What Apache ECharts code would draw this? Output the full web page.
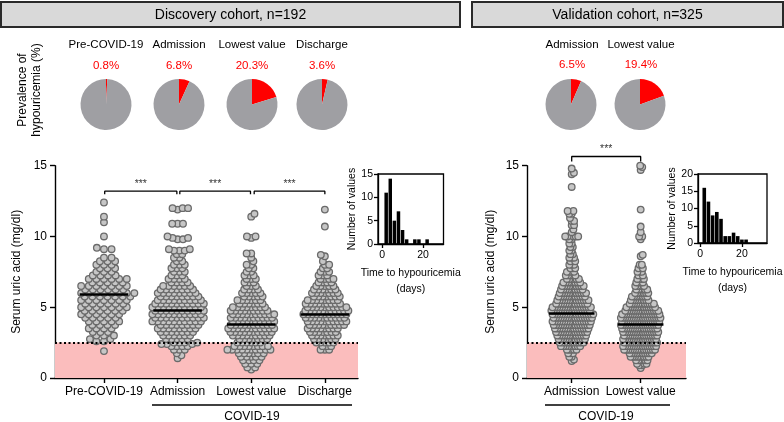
<!DOCTYPE html>
<html><head><meta charset="utf-8">
<script src="https://cdn.jsdelivr.net/npm/echarts@6/dist/echarts.min.js"></script>
<style>html,body{margin:0;padding:0;background:#fff;}#c{width:784px;height:422px;}</style>
</head><body><div id="c"></div>
<script>
// ---------------- data ----------------
const discoveryCategories = ['Pre-COVID-19', 'Admission', 'Lowest value', 'Discharge'];
const validationCategories = ['Admission', 'Lowest value'];
const discoveryPrevalence = [0.8, 6.8, 20.3, 3.6];
const validationPrevalence = [6.5, 19.4];
const discoveryMedians = [5.9, 4.8, 3.8, 4.5];
const validationMedians = [4.6, 3.8];
const uricTicks = [0, 5, 10, 15];
const hypoThreshold = 2.5;
const sigLabel = '***';

// serum uric acid (mg/dl): [value, number of patients at that value]
const discPre = [[1.9,1],[2.6,2],[2.75,2],[3,3],[3.25,3],[3.5,4],[3.75,4],[4,5],[4.25,5],[4.5,6],[4.75,6],[5,7],[5.25,6],[5.5,7],[5.75,7],[6,8],[6.25,6],[6.5,7],[6.75,5],[7,6],[7.25,4],[7.5,3],[7.75,3],[8,3],[8.25,3],[8.5,2],[9.1,2],[9.2,1],[10,1],[11,1],[11.4,1],[12.4,1]];
const discAdm = [[1.4,1],[1.6,1],[1.75,1],[2,3],[2.25,4],[2.4,3],[2.5,4],[2.75,5],[3,6],[3.25,7],[3.5,8],[3.75,8],[4,10],[4.25,10],[4.5,10],[4.75,10],[5,10],[5.25,10],[5.5,9],[5.75,8],[6,8],[6.25,7],[6.5,6],[6.75,4],[7,4],[7.25,3],[7.5,3],[7.75,3],[8,3],[8.25,2],[8.5,2],[8.75,2],[9,3],[9.1,2],[9.8,2],[9.9,2],[10,1],[10.9,3],[11.9,1],[12,3]];
const discLow = [[0.6,1],[0.75,2],[1,3],[1.25,4],[1.5,5],[1.75,6],[2,10],[2.25,8],[2.5,6],[2.75,7],[3,9],[3.25,10],[3.5,11],[3.75,10],[4,10],[4.25,10],[4.5,10],[4.75,9],[5,8],[5.25,6],[5.5,6],[5.75,5],[6,5],[6.25,4],[6.5,3],[6.75,3],[7,3],[7.25,3],[7.5,2],[7.75,2],[8,2],[8.25,1],[8.5,1],[8.8,2],[9.9,1],[10,2],[11.4,1],[11.6,1]];
const discDis = [[2,3],[2.25,3],[2.5,5],[2.75,6],[3,7],[3.25,7],[3.5,8],[3.75,9],[4,10],[4.25,10],[4.5,11],[4.75,11],[5,10],[5.25,9],[5.5,8],[5.75,7],[6,7],[6.25,6],[6.5,5],[6.75,4],[7,4],[7.25,3],[7.5,3],[7.75,2],[8,2],[8.25,1],[8.6,1],[8.7,1],[10.7,1],[11.9,1]];
const valAdm = [[1.2,1],[1.3,1],[1.5,2],[1.75,3],[2,5],[2.25,9],[2.5,11],[2.75,12],[3,13],[3.25,14],[3.5,15],[3.75,16],[4,17],[4.25,17],[4.5,18],[4.75,17],[5,17],[5.25,14],[5.5,14],[5.75,12],[6,12],[6.25,10],[6.5,10],[6.75,8],[7,6],[7.25,5],[7.5,4],[7.75,3],[8,3],[8.25,3],[8.5,3],[8.75,2],[9,2],[9.25,2],[9.5,2],[9.8,2],[10,5],[10.3,1],[10.5,1],[10.8,2],[11.1,2],[11.3,1],[11.6,2],[11.8,2],[13.5,1],[14.4,1],[14.5,1],[14.8,1]];
const valLow = [[0.7,1],[0.9,2],[1,3],[1.25,6],[1.5,9],[1.75,11],[2,15],[2.25,16],[2.5,16],[2.75,16],[3,16],[3.25,17],[3.5,17],[3.75,18],[4,18],[4.25,19],[4.5,18],[4.75,16],[5,14],[5.25,12],[5.5,9],[5.75,8],[6,7],[6.25,6],[6.5,5],[6.75,4],[7,4],[7.25,3],[7.5,3],[7.75,3],[8,2],[8.6,1],[8.7,1],[9.8,1],[10,2],[10.3,1],[10.7,1],[11.9,1],[14.7,1],[14.9,1],[15,1]];

// time to hypouricemia histograms (bin centre in days, count)
const discHistDays = [2,4,6,8,10,12,14,16,18,20,22];
const discHistCounts = [11,14,5,7,3,1,0,1,1,0,1];
const valHistDays = [2,4,6,8,10,12,14,16,18,20,22];
const valHistCounts = [16,12,8,9,7,2,2,3,2,1,1];
const discHistTicks = [0,5,10,15];
const valHistTicks = [0,5,10,15,20];
const dayTicks = [0,20];

// ---------------- layout ----------------
const FONT = "'Liberation Sans', Arial, Helvetica, sans-serif";
const MAIN_TOP = 165.7, MAIN_H = 212.3;
const D = {left:55, width:303, xmin:0.335, xmax:4.45, spacing:[7.6,5.4,4.6,4.3]};
const V = {left:527, width:159, xmin:0.352, xmax:2.657, spacing:[2.4,2.2]};
const pxPerY = MAIN_H / 15;
const ROW_H = 4.0; // vertical collision radius (px)

function expand(pairs){ const v=[]; pairs.forEach(([val,n])=>{ for(let i=0;i<n;i++) v.push(val); }); return v; }

// beeswarm layout: each point keeps its value, shifted sideways to avoid overlap
function swarm(pairs, center, pxPerX, s){
  const vals = expand(pairs).sort((a,b)=>a-b);
  const placed = [], out = [];
  vals.forEach((v,k)=>{
    const y = v*pxPerY;
    const iv = [];
    placed.forEach(p=>{ const dy=Math.abs(p.y-y); if(dy<ROW_H){ const w=s*Math.sqrt(1-(dy/ROW_H)*(dy/ROW_H)); iv.push([p.x-w,p.x+w]); } });
    const cands=[0]; iv.forEach(([a,b])=>cands.push(a,b));
    const ok = c => iv.every(([a,b]) => c <= a+1e-6 || c >= b-1e-6);
    let best=null;
    cands.filter(ok).forEach(c=>{
      if(best===null || Math.abs(c) < Math.abs(best)-1e-6) best=c;
      else if(Math.abs(Math.abs(c)-Math.abs(best))<1e-6 && ((k%2===0) ? c<best : c>best)) best=c;
    });
    placed.push({x:best,y});
    out.push([center + best/pxPerX, v]);
  });
  return out;
}

function mainX(grid, L, cats){
  const pos = cats.map((c,i)=>i+1);
  return {type:'value', gridIndex:grid, min:L.xmin, max:L.xmax,
    axisLine:{show:true,onZero:false,lineStyle:{color:'#000',width:1.4}},
    axisTick:{show:true,customValues:pos,length:5,inside:false,lineStyle:{color:'#000',width:1.4}},
    axisLabel:{customValues:pos,formatter:v=>cats[Math.round(v)-1],color:'#000',fontSize:12,margin:8,fontFamily:FONT},
    splitLine:{show:false}};
}
function mainY(grid, gap){
  return {type:'value', gridIndex:grid, min:0, max:15, interval:5,
    axisLine:{show:true,onZero:false,lineStyle:{color:'#000',width:1.4}},
    axisTick:{show:true,length:5,lineStyle:{color:'#000',width:1.4}},
    axisLabel:{color:'#000',fontSize:12,margin:8,fontFamily:FONT,customValues:uricTicks},
    splitLine:{show:false},
    name:'Serum uric acid (mg/dl)', nameLocation:'middle', nameRotate:90, nameGap:gap,
    nameTextStyle:{color:'#000',fontSize:12,fontFamily:FONT}};
}
function insetX(grid,min,max){
  return {type:'value',gridIndex:grid,min,max,
    axisLine:{show:true,onZero:false,lineStyle:{color:'#000',width:1.3}},
    axisTick:{show:true,customValues:dayTicks,length:4,lineStyle:{color:'#000',width:1.3}},
    axisLabel:{customValues:dayTicks,color:'#000',fontSize:10.5,margin:6,fontFamily:FONT},
    splitLine:{show:false},
    name:'Time to hypouricemia\n(days)', nameLocation:'middle', nameGap:21,
    nameTextStyle:{color:'#000',fontSize:10.5,lineHeight:16,fontFamily:FONT}};
}
function insetY(grid,max,ticks){
  return {type:'value',gridIndex:grid,min:0,max,interval:5,
    axisLine:{show:true,onZero:false,lineStyle:{color:'#000',width:1.3}},
    axisTick:{show:true,length:4,lineStyle:{color:'#000',width:1.3}},
    axisLabel:{customValues:ticks,color:'#000',fontSize:10.5,margin:5,fontFamily:FONT},
    splitLine:{show:false},
    name:'Number of values', nameLocation:'middle', nameRotate:90, nameGap:20,
    nameTextStyle:{color:'#000',fontSize:10.5,fontFamily:FONT}};
}

const series = [];
function addPanel(ax, L, groups, medians, brackets){
  series.push({type:'scatter', xAxisIndex:ax, yAxisIndex:ax, data:[], z:1, silent:true,
    markArea:{silent:true, itemStyle:{color:'#fbbdbd'}, data:[[{yAxis:0},{yAxis:hypoThreshold}]]},
    markLine:{silent:true, symbol:['none','none'], label:{show:false},
      lineStyle:{color:'#000',width:2,type:[2,2.5]}, data:[{yAxis:hypoThreshold}]}});
  const pxPerX = L.width/(L.xmax-L.xmin);
  groups.forEach((g,i)=>{
    series.push({type:'scatter', xAxisIndex:ax, yAxisIndex:ax, z:3, silent:true, animation:false,
      symbol:'circle', symbolSize:6.6,
      itemStyle:{color:'#c6c6c6', borderColor:'#6a6a6a', borderWidth:1.3, opacity:1},
      data: swarm(g, i+1, pxPerX, L.spacing[i])});
  });
  series.push({type:'scatter', xAxisIndex:ax, yAxisIndex:ax, data:[], z:10, silent:true,
    markLine:{silent:true, symbol:['none','none'], label:{show:false}, animation:false,
      lineStyle:{color:'#000',width:2.6,type:'solid'},
      data: medians.map((m,i)=>[{coord:[i+1-0.33,m]},{coord:[i+1+0.33,m]}])}});
  brackets.forEach(b=>{
    series.push({type:'line', xAxisIndex:ax, yAxisIndex:ax, clip:false, silent:true, animation:false, z:5,
      symbol:'none', lineStyle:{color:'#000',width:1.3},
      data:[[b.a,b.level-b.drop],[b.a,b.level],[b.b,b.level],[b.b,b.level-b.drop]]});
    series.push({type:'scatter', xAxisIndex:ax, yAxisIndex:ax, clip:false, silent:true, animation:false, z:6,
      symbolSize:1, itemStyle:{color:'rgba(0,0,0,0)'},
      label:{show:true, formatter:sigLabel, position:'top', distance:1, color:'#000', fontSize:10.5, fontFamily:FONT},
      data:[[(b.a+b.b)/2, b.level]]});
  });
}
addPanel(0, D, [discPre, discAdm, discLow, discDis], discoveryMedians,
  [{a:1.01,b:1.99,level:13.2,drop:0.22},{a:2.03,b:2.99,level:13.2,drop:0.22},{a:3.04,b:4.0,level:13.2,drop:0.22}]);
addPanel(1, V, [valAdm, valLow], validationMedians,
  [{a:1.0,b:2.0,level:15.65,drop:0.35}]);

// insets
series.push({type:'bar', xAxisIndex:2, yAxisIndex:2, barWidth:3.5, silent:true, animation:false,
  itemStyle:{color:'#000'}, data: discHistDays.map((d,i)=>[d,discHistCounts[i]])});
series.push({type:'bar', xAxisIndex:3, yAxisIndex:3, barWidth:3.6, silent:true, animation:false,
  itemStyle:{color:'#000'}, data: valHistDays.map((d,i)=>[d,valHistCounts[i]])});

// pies
const discPieX = [106,179,252,322], valPieX = [571,640], PIE_Y = 104.5;
function addPie(x,p){
  series.push({type:'pie', center:[x,PIE_Y], radius:25.5, startAngle:90, clockwise:true, silent:true, animation:false,
    label:{show:false}, labelLine:{show:false}, emphasis:{disabled:true},
    itemStyle:{borderWidth:0},
    data:[{value:p, itemStyle:{color:'#ff0000'}},{value:100-p, itemStyle:{color:'#9f9fa3'}}]});
}
discoveryPrevalence.forEach((p,i)=>addPie(discPieX[i],p));
validationPrevalence.forEach((p,i)=>addPie(valPieX[i],p));

// texts / decorations
const graphic = [];
function txt(x,y,t,size,color){ graphic.push({type:'text',x,y,silent:true,
  style:{text:t,fill:color||'#000',fontSize:size,fontFamily:FONT,align:'center',verticalAlign:'middle'}}); }
graphic.push({type:'rect',silent:true,shape:{x:1,y:2,width:459,height:25},style:{fill:'#d9d9d9',stroke:'#2a2a2a',lineWidth:2}});
graphic.push({type:'rect',silent:true,shape:{x:472,y:2,width:311,height:25},style:{fill:'#d9d9d9',stroke:'#2a2a2a',lineWidth:2}});
txt(230.5,15,'Discovery cohort, n=192',14);
txt(627.5,15,'Validation cohort, n=325',14);
graphic.push({type:'text',x:30,y:90,rotation:Math.PI/2,silent:true,
  style:{text:'Prevalence of\nhypouricemia (%)',fill:'#000',fontSize:12,lineHeight:14,fontFamily:FONT,align:'center',verticalAlign:'middle'}});
discoveryCategories.forEach((c,i)=>{ txt(discPieX[i],44.5,c,11.5); txt(discPieX[i],65.5,discoveryPrevalence[i].toFixed(1)+'%',11.5,'#ff0000'); });
validationCategories.forEach((c,i)=>{ txt(valPieX[i]+1,44.5,c,11.5); txt(valPieX[i]+1,65,validationPrevalence[i].toFixed(1)+'%',11.5,'#ff0000'); });
graphic.push({type:'line',silent:true,shape:{x1:152,y1:405,x2:352,y2:405},style:{stroke:'#000',lineWidth:1.3}});
txt(252,416.5,'COVID-19',12);
graphic.push({type:'line',silent:true,shape:{x1:545,y1:405,x2:670,y2:405},style:{stroke:'#000',lineWidth:1.3}});
txt(606,416.5,'COVID-19',12);

const chart = echarts.init(document.getElementById('c'));
chart.setOption({
  animation:false,
  backgroundColor:'#fff',
  textStyle:{fontFamily:FONT},
  grid:[
    {left:D.left, top:MAIN_TOP, width:D.width, height:MAIN_H, containLabel:false, outerBoundsMode:'none'},
    {left:V.left, top:MAIN_TOP, width:V.width, height:MAIN_H, containLabel:false, outerBoundsMode:'none'},
    {left:378, top:174, width:65.5, height:70, show:true, borderColor:'#000', borderWidth:1.3, backgroundColor:'transparent', containLabel:false, outerBoundsMode:'none'},
    {left:698, top:174, width:69, height:69, show:true, borderColor:'#000', borderWidth:1.3, backgroundColor:'transparent', containLabel:false, outerBoundsMode:'none'}
  ],
  xAxis:[mainX(0,D,discoveryCategories), mainX(1,V,validationCategories), insetX(2,-2,30), insetX(3,-1,32)],
  yAxis:[mainY(0,32), mainY(1,30), insetY(2,15,discHistTicks), insetY(3,20,valHistTicks)],
  series,
  graphic
});
</script></body></html>
